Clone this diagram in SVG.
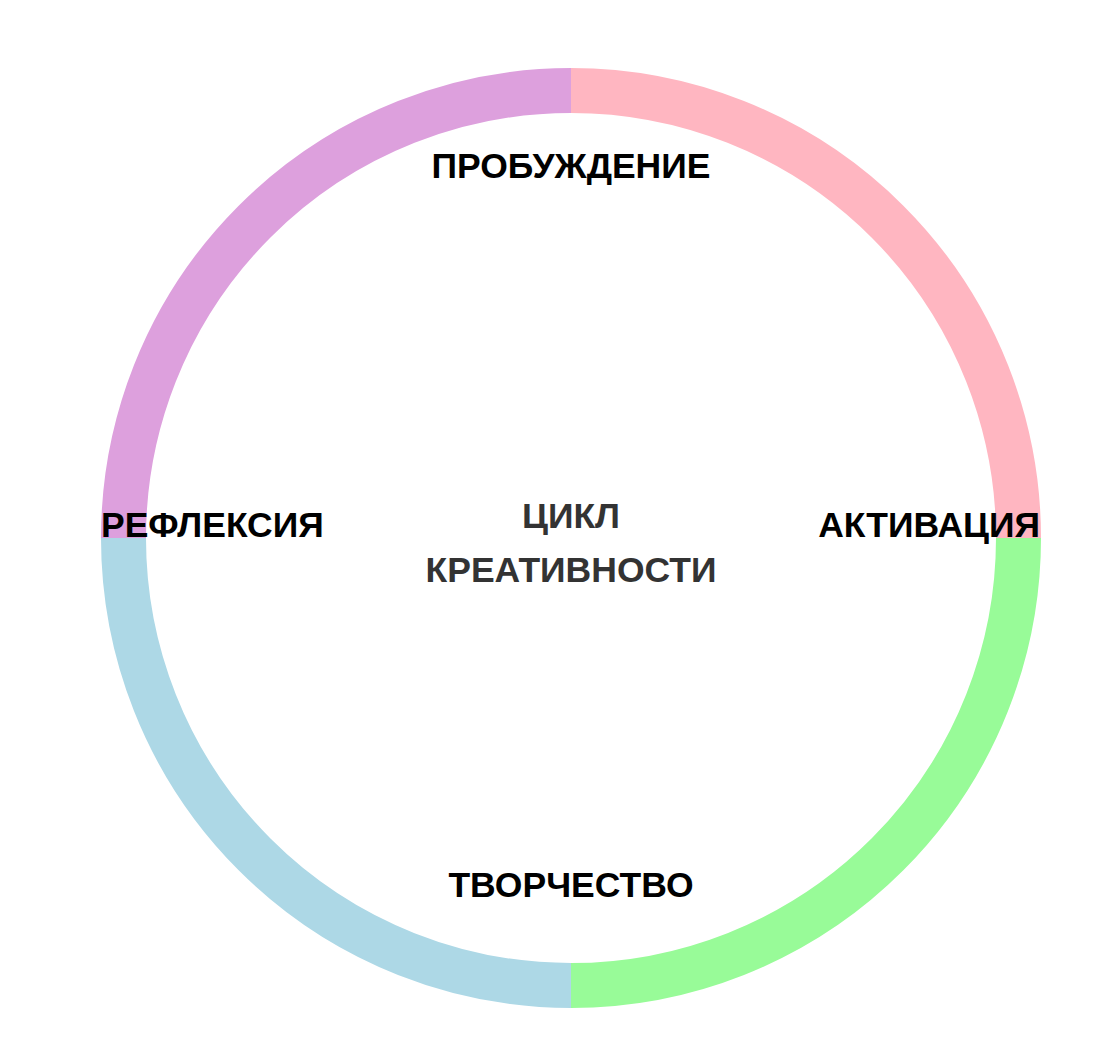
<svg xmlns="http://www.w3.org/2000/svg" width="1101" height="1043" viewBox="0 0 1101 1043">
<style>
.seg{fill:none;stroke-width:45}
.lbl{font-family:"Liberation Sans",Arial,sans-serif;font-weight:bold;font-size:35.5px;fill:#000}
.ctr{font-family:"Liberation Sans",Arial,sans-serif;font-weight:bold;font-size:35.5px;fill:#333}
</style>
<rect width="1101" height="1043" fill="#fff"/>
<g id="ring">
<path class="seg" stroke="#FFB6C1" d="M571 90.5 A447.5 447.5 0 0 1 1018.5 538"/>
<path class="seg" stroke="#98FB98" d="M1018.5 538 A447.5 447.5 0 0 1 571 985.5"/>
<path class="seg" stroke="#ADD8E6" d="M571 985.5 A447.5 447.5 0 0 1 123.5 538"/>
<path class="seg" stroke="#DDA0DD" d="M123.5 538 A447.5 447.5 0 0 1 571 90.5"/>
</g>
<g id="node-probuzhdenie"><text class="lbl" x="571" y="178" text-anchor="middle">ПРОБУЖДЕНИЕ</text></g>
<g id="node-aktivaciya"><text class="lbl" x="1040" y="537" text-anchor="end">АКТИВАЦИЯ</text></g>
<g id="node-tvorchestvo"><text class="lbl" x="571" y="897" text-anchor="middle">ТВОРЧЕСТВО</text></g>
<g id="node-refleksiya"><text class="lbl" x="101" y="537">РЕФЛЕКСИЯ</text></g>
<g id="center"><text class="ctr" x="571" y="528" text-anchor="middle">ЦИКЛ</text><text class="ctr" x="571" y="582" text-anchor="middle">КРЕАТИВНОСТИ</text></g>
</svg>
